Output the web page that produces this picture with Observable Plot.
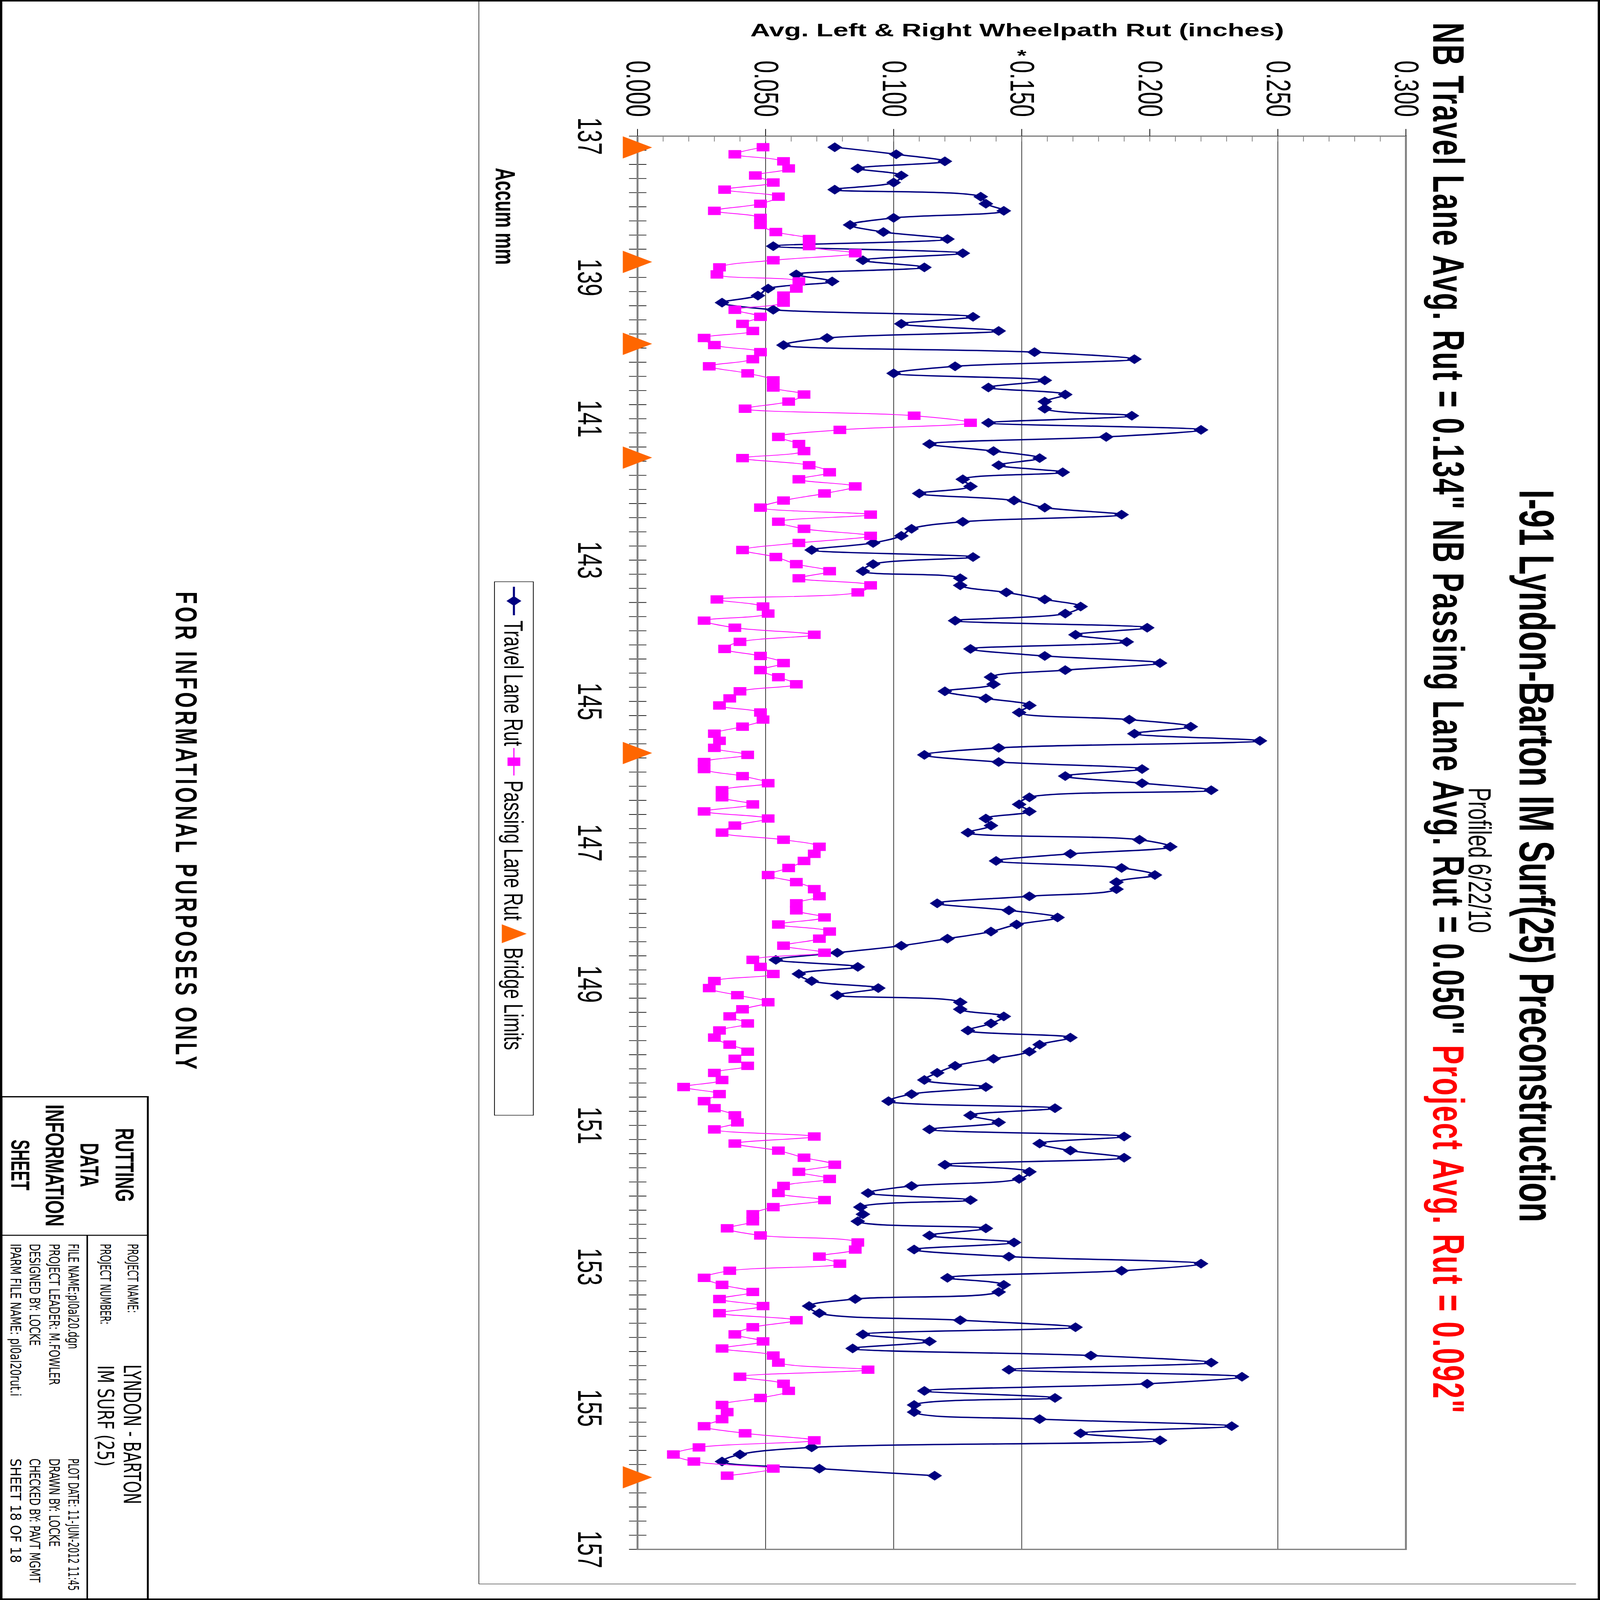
<!DOCTYPE html>
<html>
<head>
<meta charset="utf-8">
<script src="https://cdn.jsdelivr.net/npm/d3@7"></script>
<script src="https://cdn.jsdelivr.net/npm/@observablehq/plot@0.6"></script>
<style>
html, body { margin: 0; padding: 0; background: #fff; overflow: hidden; }
#sheet { display: block; }
</style>
</head>
<body>
<script>
// ---------- data ----------
const mileTickLabels = [137, 139, 141, 143, 145, 147, 149, 151, 153, 155, 157];
const rutTicks = [0, 0.05, 0.1, 0.15, 0.2, 0.25, 0.3];
const rutTickLabels = ["0.000", "0.050", "0.100", "0.150", "0.200", "0.250", "0.300"];
const gridValues = [0.05, 0.1, 0.15, 0.25];
const bridgeLimits = [137.16, 138.78, 139.94, 141.55, 145.73, 155.98];
const mileStart = 137.157, mileStep = 0.1;
const seriesNames = ["Travel Lane Rut", "Passing Lane Rut", "Bridge Limits"];

const travelRut = [
0.077,0.101,0.120,0.086,0.103,0.100,0.077,0.134,0.136,0.143,
0.100,0.083,0.096,0.121,0.053,0.127,0.088,0.112,0.062,0.076,
0.051,0.047,0.033,0.053,0.131,0.103,0.141,0.074,0.057,0.155,
0.194,0.124,0.100,0.159,0.137,0.167,0.159,0.159,0.193,0.137,
0.220,0.183,0.114,0.139,0.157,0.141,0.166,0.127,0.130,0.110,
0.147,0.159,0.189,0.127,0.107,0.103,0.092,0.068,0.131,0.092,
0.088,0.126,0.126,0.144,0.159,0.173,0.167,0.124,0.199,0.171,
0.191,0.130,0.159,0.204,0.167,0.138,0.139,0.120,0.136,0.153,
0.149,0.192,0.216,0.194,0.243,0.141,0.112,0.141,0.197,0.167,
0.197,0.224,0.153,0.149,0.153,0.136,0.138,0.129,0.196,0.208,
0.169,0.140,0.189,0.202,0.187,0.187,0.153,0.117,0.145,0.164,
0.148,0.138,0.121,0.103,0.078,0.054,0.086,0.063,0.068,0.094,
0.078,0.126,0.126,0.143,0.138,0.129,0.169,0.157,0.153,0.139,
0.124,0.117,0.112,0.136,0.107,0.098,0.163,0.130,0.141,0.114,
0.190,0.157,0.169,0.190,0.120,0.153,0.149,0.107,0.090,0.130,
0.087,0.088,0.086,0.136,0.114,0.147,0.108,0.145,0.220,0.189,
0.121,0.143,0.141,0.085,0.067,0.071,0.126,0.171,0.088,0.114,
0.084,0.177,0.224,0.145,0.236,0.199,0.112,0.163,0.108,0.108,
0.157,0.232,0.173,0.204,0.068,0.040,0.033,0.071,0.116
];

const passingRut = [
0.049,0.038,0.057,0.059,0.046,0.053,0.034,0.055,0.048,0.030,
0.048,0.048,0.054,0.067,0.067,0.085,0.053,0.032,0.031,0.063,
0.062,0.057,0.057,0.038,0.048,0.041,0.045,0.026,0.030,0.048,
0.045,0.028,0.043,0.053,0.053,0.065,0.059,0.042,0.108,0.130,
0.079,0.055,0.063,0.065,0.041,0.067,0.075,0.063,0.085,0.073,
0.057,0.048,0.091,0.055,0.065,0.091,0.063,0.041,0.054,0.062,
0.075,0.063,0.091,0.086,0.031,0.049,0.051,0.026,0.038,0.069,
0.040,0.034,0.048,0.057,0.048,0.055,0.062,0.040,0.036,0.032,
0.048,0.049,0.041,0.030,0.032,0.030,0.043,0.026,0.026,0.041,
0.051,0.033,0.033,0.045,0.026,0.051,0.038,0.033,0.057,0.071,
0.069,0.065,0.059,0.051,0.062,0.069,0.071,0.062,0.062,0.073,
0.055,0.075,0.071,0.057,0.073,0.045,0.048,0.053,0.030,0.028,
0.039,0.051,0.041,0.036,0.043,0.032,0.030,0.036,0.043,0.038,
0.043,0.030,0.033,0.018,0.032,0.026,0.030,0.038,0.039,0.030,
0.069,0.038,0.055,0.065,0.077,0.063,0.075,0.057,0.055,0.073,
0.053,0.045,0.045,0.035,0.048,0.086,0.085,0.071,0.079,0.036,
0.026,0.033,0.045,0.032,0.049,0.032,0.062,0.045,0.038,0.049,
0.033,0.053,0.055,0.090,0.040,0.057,0.059,0.048,0.033,0.035,
0.033,0.026,0.042,0.069,0.024,0.014,0.022,0.053,0.035
];

// ---------- build tables ----------
const travel = travelRut.map((v, i) => ({ m: mileStart + i * mileStep, v }));
const passing = passingRut.map((v, i) => ({ m: mileStart + i * mileStep, v }));
const bridges = bridgeLimits.map(m => ({ m, v: 0 }));

const NAVY = "#000080", MAGENTA = "#FF00FF", ORANGE = "#FF6600", FRAME = "#808080";
const SANS = "'Liberation Sans', Arial, Helvetica, sans-serif";
const NARROW = "'DejaVu Sans Condensed', 'Liberation Sans Narrow', 'DejaVu Sans', sans-serif";

const mileMinor = d3.range(0, 101).map(i => 137 + i * 0.2);
const rutMinor = d3.range(1, 30).map(i => i * 0.01);

// Landscape chart (6400 x 4200), rotated 90deg clockwise onto the portrait sheet
const chart = Plot.plot({
  width: 6400, height: 4200,
  marginLeft: 544, marginRight: 203, marginTop: 509, marginBottom: 1674,
  x: { domain: [137, 157] },
  y: { domain: [0, 0.3] },
  style: { fontFamily: SANS, fontSize: "90px", background: "transparent", color: "#000", overflow: "visible" },
  marks: [
    Plot.ruleY(gridValues, { stroke: "#333", strokeWidth: 2 }),
    Plot.ruleY(rutMinor, { x1: 137, x2: 137.078, stroke: FRAME, strokeWidth: 2 }),
    Plot.ruleX(mileMinor, { y1: -0.0034, y2: 0.0034, stroke: "#000", strokeWidth: 2.5 }),
    Plot.frame({ stroke: FRAME, strokeWidth: 5 }),
    Plot.line(travel, { x: "m", y: "v", stroke: NAVY, strokeWidth: 5.5, curve: "catmull-rom" }),
    Plot.dot(travel, { x: "m", y: "v", symbol: "diamond2", r: 17.6, fill: NAVY, stroke: "none" }),
    Plot.line(passing, { x: "m", y: "v", stroke: MAGENTA, strokeWidth: 3, curve: "catmull-rom" }),
    Plot.dot(passing, { x: "m", y: "v", symbol: "square", r: 18.9, fill: MAGENTA, stroke: "none" }),
    Plot.dot(bridges, { x: "m", y: "v", symbol: "triangle", r: 33, fill: ORANGE, stroke: "none", dy: 13 }),
    Plot.axisY({ ticks: rutTicks, tickFormat: d => rutTickLabels[rutTicks.indexOf(d)], tickSize: 28, tickPadding: 49, strokeWidth: 2, fontSize: 90, label: null }),
    Plot.axisX({ ticks: mileTickLabels, tickFormat: d => String(d), tickSize: 0, tickPadding: 92, fontSize: 90, label: null })
  ]
});

// ---------- portrait sheet, fitted to the window ----------
const VW = window.innerWidth || 4200, VH = window.innerHeight || 6400;
const sheet = d3.select("body").append("svg")
  .attr("id", "sheet")
  .attr("xmlns", "http://www.w3.org/2000/svg")
  .attr("width", VW).attr("height", VH)
  .attr("viewBox", "0 0 4200 6400")
  .attr("preserveAspectRatio", "none");
sheet.append("rect").attr("width", 4200).attr("height", 6400).attr("fill", "#fff");
const land = sheet.append("g").attr("transform", "translate(4200,0) rotate(90)");

chart.setAttribute("x", 0);
chart.setAttribute("y", 0);
chart.setAttribute("width", 6400);
chart.setAttribute("height", 4200);
chart.style.maxWidth = "none";
chart.style.width = "6400px";
chart.style.height = "4200px";
land.node().appendChild(chart);

const ov = land.append("g").style("white-space", "pre");

function T(s, x, y, o = {}) {
  const t = ov.append("text").attr("x", x).attr("y", y)
    .attr("font-family", o.family || SANS)
    .attr("font-size", o.size || 72)
    .attr("font-weight", o.weight || "normal")
    .attr("text-anchor", o.anchor || "start")
    .attr("fill", o.fill || "#000")
    .text(s);
  if (o.len) t.attr("textLength", o.len).attr("lengthAdjust", o.adjust || "spacingAndGlyphs");
  if (o.rotate) t.attr("transform", `rotate(${o.rotate},${x},${y})`);
  return t;
}
function L(x1, y1, x2, y2, w, c) {
  ov.append("line").attr("x1", x1).attr("y1", y1).attr("x2", x2).attr("y2", y2)
    .attr("stroke", c || "#000").attr("stroke-width", w || 2);
}

// page border
ov.append("rect").attr("x", 3).attr("y", 3).attr("width", 6394).attr("height", 4194)
  .attr("fill", "none").attr("stroke", "#000").attr("stroke-width", 6);
// chart-area border
L(4, 2943, 6336, 2943, 1.5);
L(6336, 63, 6336, 2943, 1.5);

// titles
T("I-91 Lyndon-Barton IM Surf(25) Preconstruction", 3424, 211, { size: 130, weight: "bold", anchor: "middle", len: 2930 });
T("Profiled 6/22/10", 3441, 345, { size: 83, anchor: "middle" });
const sub = ov.append("text").attr("x", 90).attr("y", 438)
  .attr("font-family", SANS).attr("font-size", 116).attr("font-weight", "bold")
  .attr("textLength", 5563).attr("lengthAdjust", "spacing");
sub.append("tspan").text('NB Travel Lane Avg. Rut = 0.134" NB Passing Lane Avg. Rut = 0.050" ');
sub.append("tspan").attr("fill", "#FF0000").text('Project Avg. Rut = 0.092"');

// axis titles
T("Avg. Left & Right Wheelpath Rut (inches)", 145, 1530, { size: 72, weight: "bold", anchor: "middle", rotate: -90 });
T("*", 243, 1518, { size: 64, weight: "bold", anchor: "middle", rotate: -90 });
T("Accum mm", 865, 2899, { size: 72, weight: "bold", anchor: "middle" });

// legend
ov.append("rect").attr("x", 2327).attr("y", 2800).attr("width", 2134).attr("height", 102)
  .attr("fill", "#fff").attr("stroke", "#000").attr("stroke-width", 2);
const ly = 2851;
L(2347, ly, 2461, ly, 5.5, NAVY);
ov.append("path").attr("d", d3.symbol(d3.symbolDiamond2, Math.PI * 17.6 * 17.6)())
  .attr("transform", `translate(2404,${ly})`).attr("fill", NAVY);
T(seriesNames[0], 2482, ly + 25, { size: 71 });
L(2992, ly, 3102, ly, 3, MAGENTA);
ov.append("path").attr("d", d3.symbol(d3.symbolSquare, Math.PI * 18.9 * 18.9)())
  .attr("transform", `translate(3047,${ly})`).attr("fill", MAGENTA);
T(seriesNames[1], 3122, ly + 25, { size: 71 });
ov.append("path").attr("d", d3.symbol(d3.symbolTriangle, Math.PI * 28 * 28)())
  .attr("transform", `translate(3735,${ly + 10})`).attr("fill", ORANGE);
T(seriesNames[2], 3790, ly + 25, { size: 71 });

// disclaimer
T("FOR INFORMATIONAL PURPOSES ONLY", 3322, 3739, { size: 80, weight: "bold", anchor: "middle", len: 1911, adjust: "spacing" });

// title block
ov.append("rect").attr("x", 4387).attr("y", 3812).attr("width", 2009).attr("height", 384)
  .attr("fill", "none").attr("stroke", "#000").attr("stroke-width", 5);
L(4941, 3812, 4941, 4196, 4);
L(4941, 3971, 6396, 3971, 4);

T("RUTTING", 4660, 3897, { size: 68, weight: "bold", anchor: "middle", len: 295 });
T("DATA", 4660, 3989, { size: 68, weight: "bold", anchor: "middle", len: 177 });
T("INFORMATION", 4662, 4080, { size: 68, weight: "bold", anchor: "middle", len: 488 });
T("SHEET", 4660, 4170, { size: 68, weight: "bold", anchor: "middle", len: 203 });

T("PROJECT NAME:", 4975, 3865, { size: 39, family: NARROW, len: 277 });
T("LYNDON - BARTON", 5458, 3875, { size: 62, family: NARROW, len: 559 });
T("PROJECT NUMBER:", 4975, 3937, { size: 39, family: NARROW, len: 323 });
T("IM SURF (25)", 5461, 3944, { size: 58, family: NARROW, len: 405 });

T("FILE NAME:pl0al20.dgn", 4975, 4021, { size: 39, family: NARROW, len: 421 });
T("PLOT DATE: 11-JUN-2012 11:45", 5834, 4021, { size: 39, family: NARROW, len: 529 });
T("PROJECT LEADER:  M.FOWLER", 4975, 4071, { size: 39, family: NARROW, len: 565 });
T("DRAWN BY:  LOCKE", 5834, 4071, { size: 39, family: NARROW, len: 353 });
T("DESIGNED BY:  LOCKE", 4975, 4122, { size: 39, family: NARROW, len: 408 });
T("CHECKED BY:  PAVT MGMT", 5834, 4122, { size: 39, family: NARROW, len: 496 });
T("IPARM FILE NAME:  pl0al20rut.i", 4975, 4172, { size: 39, family: NARROW, len: 610 });
T("SHEET   18   OF   18", 5834, 4172, { size: 39, family: NARROW, len: 418 });
</script>
</body>
</html>
